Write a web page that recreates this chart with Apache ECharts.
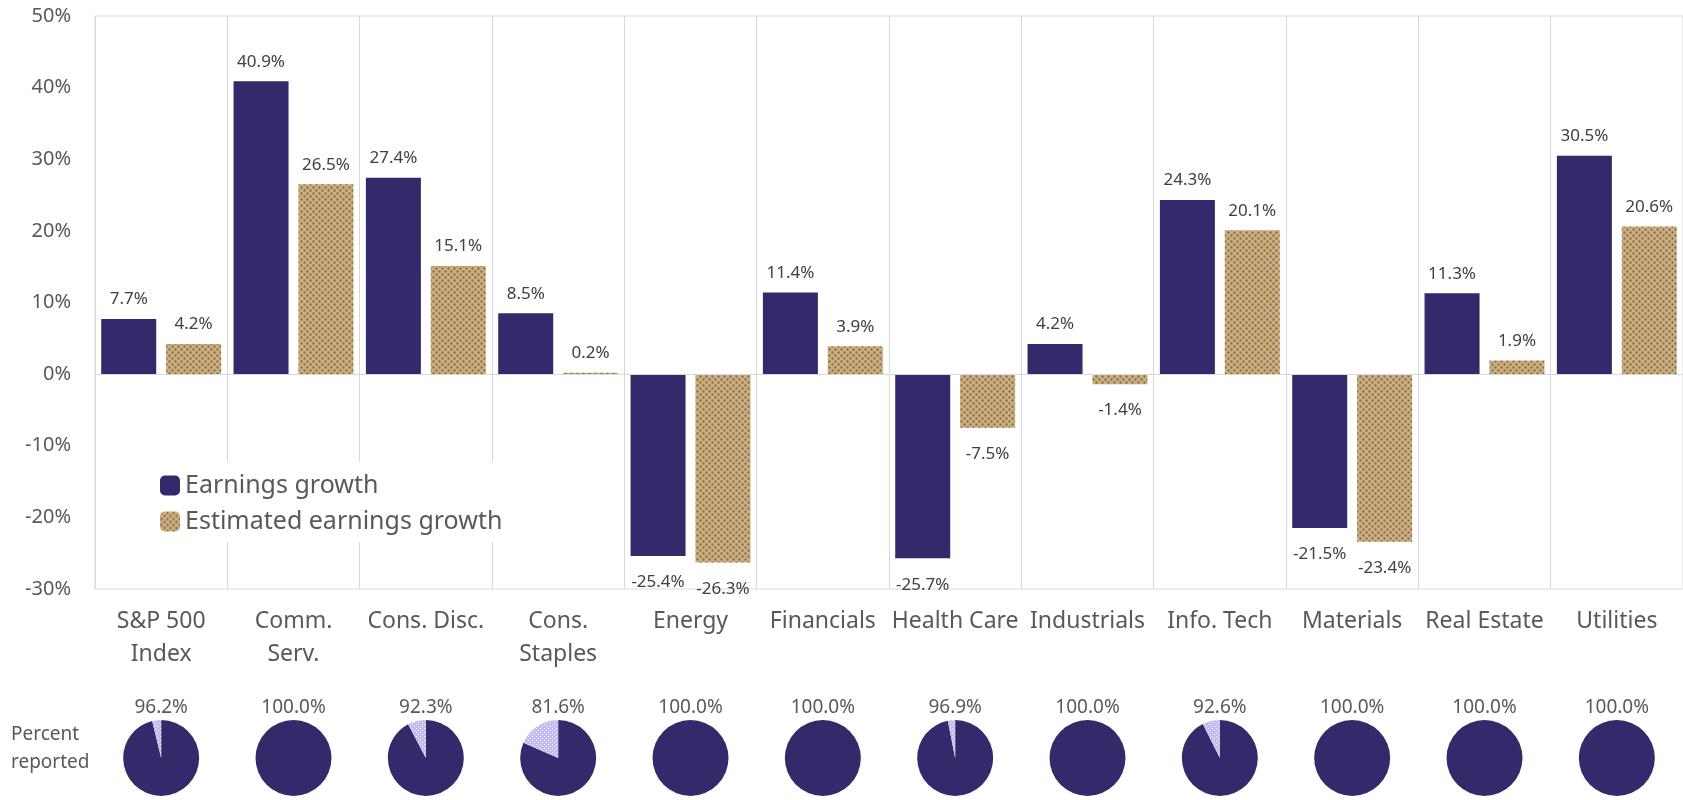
<!DOCTYPE html>
<html>
<head>
<meta charset="utf-8">
<title>Earnings growth by sector</title>
<script src="https://cdn.jsdelivr.net/npm/echarts@6/dist/echarts.min.js"></script>
<style>
  html, body { margin: 0; padding: 0; background: #fff; }
  #chart { width: 1683px; height: 800px; }
</style>
</head>
<body>
<div id="chart"></div>
<script>
  const categories = ['S&P 500\nIndex', 'Comm.\nServ.', 'Cons. Disc.', 'Cons.\nStaples', 'Energy', 'Financials',
    'Health Care', 'Industrials', 'Info. Tech', 'Materials', 'Real Estate', 'Utilities'];
  const earningsGrowth = [7.7, 40.9, 27.4, 8.5, -25.4, 11.4, -25.7, 4.2, 24.3, -21.5, 11.3, 30.5];
  const estimatedGrowth = [4.2, 26.5, 15.1, 0.2, -26.3, 3.9, -7.5, -1.4, 20.1, -23.4, 1.9, 20.6];
  const percentReported = [96.2, 100.0, 92.3, 81.6, 100.0, 100.0, 96.9, 100.0, 92.6, 100.0, 100.0, 100.0];

  const navy = '#34296a';
  const textColor = '#595959';
  const labelColor = '#404040';
  const lineColor = '#d9d9d9';
  const font = '"Noto Sans", "Open Sans", sans-serif';

  // tan hatch used by the estimate bars
  function tanPattern() {
    const c = document.createElement('canvas');
    c.width = 6;
    c.height = 6;
    const ctx = c.getContext('2d');
    ctx.fillStyle = '#cdb082';
    ctx.fillRect(0, 0, 6, 6);
    ctx.fillStyle = '#8c6d49';
    ctx.beginPath();
    ctx.arc(1.5, 1.5, 1.2, 0, Math.PI * 2);
    ctx.arc(4.5, 4.5, 1.2, 0, Math.PI * 2);
    ctx.fill();
    return c;
  }

  // light dotted lavender for the not-yet-reported slice
  function lavenderPattern() {
    const c = document.createElement('canvas');
    c.width = 4;
    c.height = 4;
    const ctx = c.getContext('2d');
    ctx.fillStyle = '#c3baf0';
    ctx.fillRect(0, 0, 4, 4);
    ctx.fillStyle = '#ffffff';
    ctx.fillRect(0, 0, 1, 1);
    ctx.fillRect(2, 2, 1, 1);
    return c;
  }

  const tanFill = { image: tanPattern(), repeat: 'repeat' };
  const lavFill = { image: lavenderPattern(), repeat: 'repeat' };

  function barData(values) {
    return values.map(v => ({
      value: v,
      label: { position: v < 0 ? 'bottom' : 'top', distance: v < 0 ? 18 : 11 }
    }));
  }

  const barLabel = {
    show: true,
    color: labelColor,
    fontSize: 17,
    fontFamily: font,
    formatter: p => p.value.toFixed(1) + '%'
  };

  const chart = echarts.init(document.getElementById('chart'));

  const option = {
    animation: false,
    backgroundColor: '#fff',
    grid: {
      left: 95,
      top: 16,
      width: 1591,
      height: 573,
      show: true,
      borderColor: lineColor,
      borderWidth: 1
    },
    legend: {
      orient: 'vertical',
      left: 152,
      top: 462,
      itemWidth: 20,
      itemHeight: 20,
      itemGap: 11,
      padding: [11, 14, 8, 8],
      backgroundColor: '#fff',
      textStyle: { fontSize: 25, lineHeight: 25, color: textColor, fontFamily: font },
      data: ['Earnings growth', 'Estimated earnings growth']
    },
    xAxis: [{
      type: 'category',
      data: categories,
      axisTick: { show: false },
      axisLine: { show: true, lineStyle: { color: lineColor } },
      splitLine: { show: true, lineStyle: { color: lineColor } },
      axisLabel: {
        color: textColor,
        fontSize: 23,
        lineHeight: 33,
        margin: 16,
        fontFamily: font,
        interval: 0
      }
    }, {
      type: 'category',
      data: categories,
      position: 'bottom',
      axisTick: { show: false },
      axisLine: { show: false },
      axisLabel: {
        color: textColor,
        fontSize: 19,
        margin: 109,
        fontFamily: font,
        interval: 0,
        formatter: (v, i) => percentReported[i].toFixed(1) + '%'
      }
    }],
    yAxis: {
      type: 'value',
      min: -30,
      max: 50,
      interval: 10,
      axisLine: { show: false },
      axisTick: { show: false },
      splitLine: { show: false },
      axisLabel: {
        formatter: '{value}%',
        color: textColor,
        fontSize: 20,
        margin: 24,
        fontFamily: font
      }
    },
    graphic: [{
      type: 'text',
      left: 11,
      top: 721,
      style: {
        text: 'Percent\nreported',
        fill: textColor,
        font: '19px ' + font,
        lineHeight: 28
      }
    }],
    series: [{
      name: 'Earnings growth',
      type: 'bar',
      barWidth: 55,
      barGap: '18%',
      itemStyle: { color: navy },
      label: barLabel,
      data: barData(earningsGrowth),
      markLine: {
        silent: true,
        symbol: 'none',
        label: { show: false },
        lineStyle: { color: lineColor, type: 'solid', width: 1 },
        data: [{ yAxis: 0 }]
      }
    }, {
      name: 'Estimated earnings growth',
      type: 'bar',
      barWidth: 55,
      itemStyle: { color: tanFill },
      label: barLabel,
      data: barData(estimatedGrowth)
    }]
  };

  chart.setOption(option);

  // small pies sit under each sector, placed from the category axis
  const pies = categories.map((cat, i) => ({
    type: 'pie',
    silent: true,
    radius: 38,
    center: [chart.convertToPixel({ xAxisIndex: 0 }, cat), 758],
    startAngle: 90,
    clockwise: true,
    label: { show: false },
    labelLine: { show: false },
    data: [
      { value: percentReported[i], itemStyle: { color: navy } },
      { value: +(100 - percentReported[i]).toFixed(1), itemStyle: { color: lavFill } }
    ]
  }));

  chart.setOption({ series: option.series.concat(pies) });
</script>
</body>
</html>
